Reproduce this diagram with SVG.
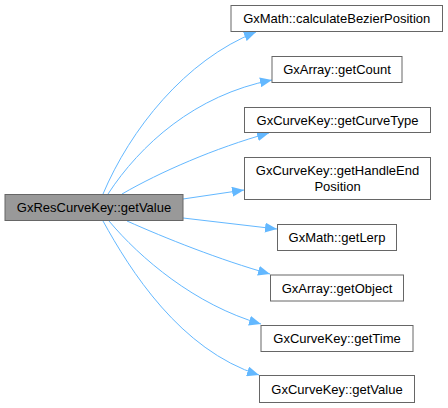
<svg xmlns="http://www.w3.org/2000/svg" width="448" height="408" viewBox="0 0 448 408">
<style>
.n rect{fill:#ffffff;stroke:#666666;stroke-width:1}
.n.m rect{fill:#999999}
.n text{font-family:"Liberation Sans",Arial,sans-serif;font-size:13px;fill:#000000;text-anchor:middle}
.e path{fill:none;stroke:#63b8ff;stroke-width:1}
</style>
<defs>
<marker id="a" viewBox="0 0 12 10" refX="12" refY="5" markerWidth="12" markerHeight="10" markerUnits="userSpaceOnUse" orient="auto">
<path d="M0,0 L12,5 L0,10 z" fill="#63b8ff"/>
</marker>
</defs>
<rect width="448" height="408" fill="#ffffff"/>
<g id="edges" class="e">
<path d="M103,194 C130,130 185,60 256,32" marker-end="url(#a)"/>
<path d="M108,194 C140,145 195,95 272,80" marker-end="url(#a)"/>
<path d="M122,194 C160,172 215,148 269,133" marker-end="url(#a)"/>
<path d="M183,199 L244,190" marker-end="url(#a)"/>
<path d="M183,218 L277,229" marker-end="url(#a)"/>
<path d="M127,221 C165,238 220,260 270,274" marker-end="url(#a)"/>
<path d="M109,221 C140,258 195,305 261,324" marker-end="url(#a)"/>
<path d="M103,221 C130,270 180,350 259,375" marker-end="url(#a)"/>
</g>
<g id="node_main" class="n m"><rect x="5" y="194.5" width="178" height="26"/><text x="94" y="212">GxResCurveKey::getValue</text></g>
<g id="node1" class="n"><rect x="231" y="5.5" width="211.5" height="26"/><text x="336.75" y="23">GxMath::calculateBezierPosition</text></g>
<g id="node2" class="n"><rect x="272" y="56.5" width="130" height="26"/><text x="337" y="74">GxArray::getCount</text></g>
<g id="node3" class="n"><rect x="244.5" y="107.5" width="186" height="25"/><text x="337.5" y="124.5">GxCurveKey::getCurveType</text></g>
<g id="node4" class="n"><rect x="244.5" y="157.5" width="186" height="42"/><text x="337.5" y="175">GxCurveKey::getHandleEnd</text><text x="337.5" y="191">Position</text></g>
<g id="node5" class="n"><rect x="277.5" y="224.5" width="119" height="26"/><text x="337" y="242">GxMath::getLerp</text></g>
<g id="node6" class="n"><rect x="270.5" y="275" width="133" height="26"/><text x="337" y="292.5">GxArray::getObject</text></g>
<g id="node7" class="n"><rect x="261" y="325.5" width="152" height="26"/><text x="337" y="343">GxCurveKey::getTime</text></g>
<g id="node8" class="n"><rect x="259.5" y="375.5" width="155" height="27"/><text x="337" y="393.5">GxCurveKey::getValue</text></g>
</svg>
